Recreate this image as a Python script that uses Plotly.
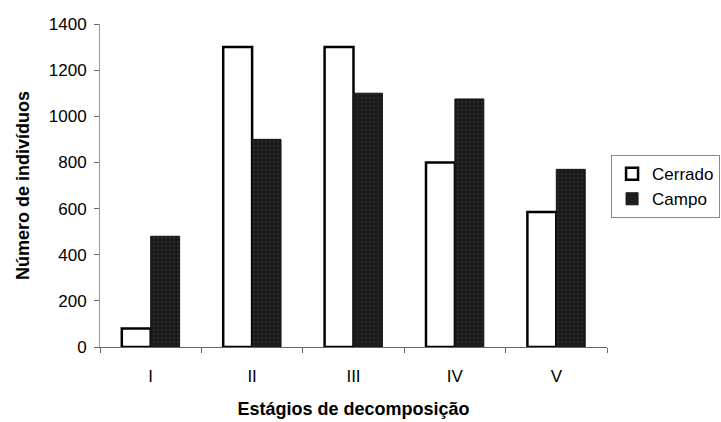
import plotly.graph_objects as go

# Stages of decomposition and counts per habitat
estagios = ["I", "II", "III", "IV", "V"]
cerrado = [80, 1300, 1300, 800, 585]
campo = [480, 900, 1100, 1075, 770]

FONT = "Liberation Sans, Arial, sans-serif"

fig = go.Figure()
fig.add_trace(go.Bar(
    x=estagios, y=cerrado, name="Cerrado",
    marker=dict(color="white", line=dict(color="black", width=2.5)),
))
fig.add_trace(go.Bar(
    x=estagios, y=campo, name="Campo",
    marker=dict(color="#1a1a1a", line=dict(color="#111111", width=1),
                pattern=dict(shape=".", fgcolor="#6e6e6e", bgcolor="#1a1a1a",
                             size=4, solidity=0.08)),
))

fig.update_layout(
    width=721, height=422,
    margin=dict(l=100, r=114, t=24, b=75, autoexpand=False),
    paper_bgcolor="white", plot_bgcolor="white",
    barmode="group", bargap=0.43, bargroupgap=0,
    font=dict(family=FONT, size=17, color="black"),
    showlegend=True,
    legend=dict(
        x=1.008, y=0.594, xanchor="left", yanchor="top",
        bordercolor="#888888", borderwidth=1, bgcolor="white",
        font=dict(size=17), itemwidth=30, tracegroupgap=0,
    ),
    xaxis=dict(
        showline=True, linecolor="#666666", linewidth=1,
        ticks="outside", ticklen=5, tickcolor="#666666",
        tickson="boundaries", showgrid=False,
        tickfont=dict(size=17), ticklabelstandoff=14,
        title=dict(text="<b>Estágios de decomposição</b>", font=dict(size=18), standoff=16),
    ),
    yaxis=dict(
        range=[0, 1400], dtick=200,
        showline=True, linecolor="#999999", linewidth=1,
        ticks="outside", ticklen=5, tickcolor="#666666",
        showgrid=False, zeroline=False,
        tickfont=dict(size=17), ticklabelstandoff=4,
        title=dict(text="<b>Número de indivíduos</b>", font=dict(size=18), standoff=14),
    ),
)

fig.write_html("out.html")
